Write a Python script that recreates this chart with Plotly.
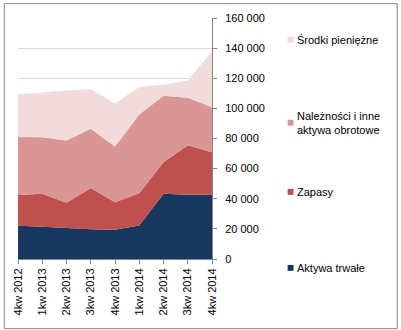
import plotly.graph_objects as go

categories = ["4kw 2012", "1kw 2013", "2kw 2013", "3kw 2013", "4kw 2013",
              "1kw 2014", "2kw 2014", "3kw 2014", "4kw 2014"]
aktywa_trwale = [22000, 21400, 20500, 19800, 19400, 22200, 43300, 42700, 42700]
zapasy = [20500, 21900, 16800, 27300, 18300, 21400, 20900, 32900, 28100]
naleznosci = [38500, 37500, 41300, 39400, 37000, 52300, 44100, 31400, 29900]
srodki = [28300, 29700, 33200, 26400, 28600, 18300, 7400, 11500, 37000]

series_names = ["Aktywa trwałe", "Zapasy", "Należności i inne<br>aktywa obrotowe", "Środki pieniężne"]
series_values = [aktywa_trwale, zapasy, naleznosci, srodki]
colors = ["#17375E", "#C0504D", "#D99694", "#F2DCDB"]

W, H = 401, 330
L, R, T, B = 14.5, 212, 15, 259


def px_x(p):
    return (p - L) / (R - L)


def px_y(p):
    return (B - p) / (B - T)


fig = go.Figure()
for name, vals, col in zip(series_names, series_values, colors):
    fig.add_trace(go.Scatter(
        x=list(range(len(categories))), y=vals, name=name,
        stackgroup="one", mode="none", fillcolor=col,
        line=dict(width=0), showlegend=False,
    ))

font = dict(family="Liberation Sans, Arial, sans-serif", size=11, color="#000000")

# legend as annotations
legend_y = [268, 191, 121, 37]
annotations = []
shapes = []
for name, col, yy in zip(series_names, colors, legend_y):
    shapes.append(dict(type="rect", xref="paper", yref="paper",
                       x0=px_x(289), x1=px_x(295), y0=px_y(yy + 3), y1=px_y(yy - 3),
                       fillcolor=col, line=dict(width=0)))
    annotations.append(dict(xref="paper", yref="paper", x=px_x(297), y=px_y(yy),
                            text=name, showarrow=False, xanchor="left", yanchor="middle",
                            align="left", font=font))

# outer border
shapes.append(dict(type="rect", xref="paper", yref="paper",
                   x0=px_x(0.5), x1=px_x(W - 0.5), y0=px_y(H - 0.5), y1=px_y(0.5),
                   line=dict(color="#868686", width=1), fillcolor="rgba(0,0,0,0)", layer="above"))

fig.update_layout(
    width=W, height=H,
    margin=dict(l=L, r=W - R, t=T, b=H - B),
    paper_bgcolor="white", plot_bgcolor="white",
    separators=", ",
    font=font,
    showlegend=False,
    annotations=annotations,
    shapes=shapes,
    xaxis=dict(
        range=[0, len(categories) - 1],
        tickmode="array", tickvals=list(range(len(categories))), ticktext=categories,
        tickangle=-90, ticks="outside", ticklen=4, tickcolor="#868686",
        showline=True, linecolor="#868686", linewidth=1,
        showgrid=False, zeroline=False, tickfont=font,
    ),
    yaxis=dict(
        side="right", range=[0, 160000], dtick=20000, tickformat=",d",
        ticks="outside", ticklen=4, tickcolor="#868686",
        showline=True, linecolor="#868686", linewidth=1,
        showgrid=True, gridcolor="#D9D9D9", gridwidth=1, zeroline=False,
        tickfont=font, ticklabelstandoff=6,
    ),
)

fig.write_html("out.html")
